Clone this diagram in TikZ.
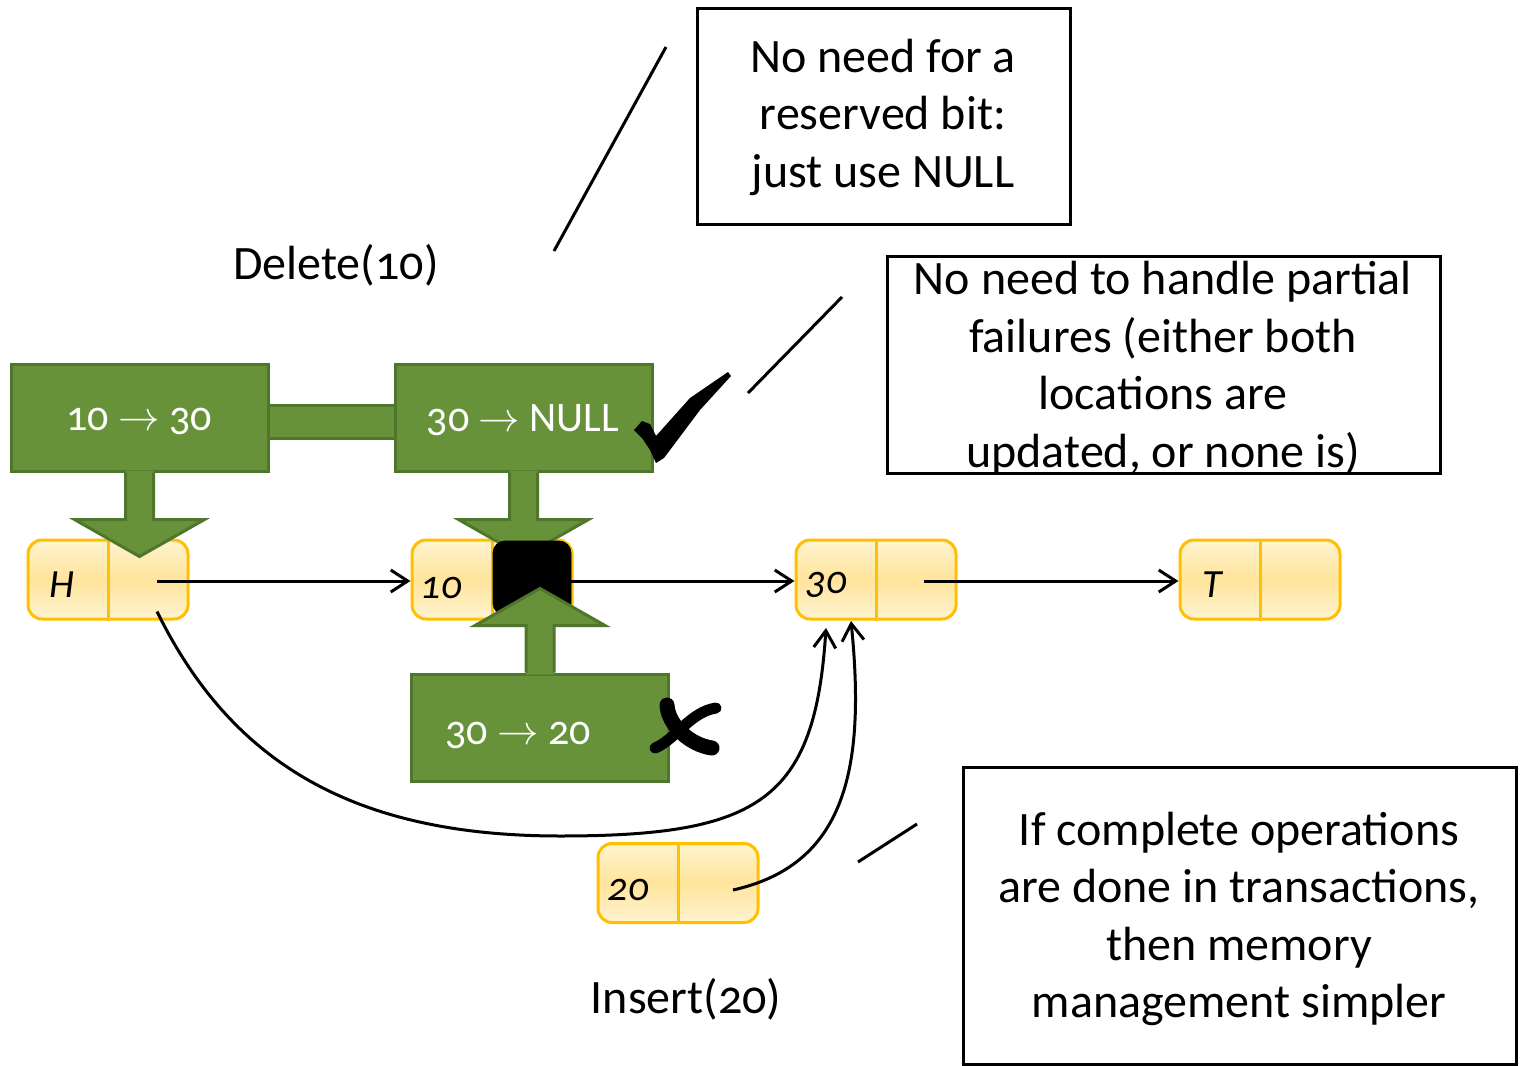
\documentclass[tikz,border=0pt]{standalone}
\usepackage{fontspec}
\setmainfont{Carlito}[Numbers=OldStyle]
\usetikzlibrary{arrows.meta,calc}
\definecolor{gfill}{RGB}{103,146,57}
\definecolor{gborder}{RGB}{80,118,43}
\definecolor{nborder}{RGB}{255,192,0}
\definecolor{nlight}{RGB}{255,243,208}
\definecolor{nmid}{RGB}{255,228,155}
\tikzset{
  listnode/.style={draw=nborder, line width=1.5pt, rounded corners=7pt,
    minimum width=80pt, minimum height=39.5pt, inner sep=0pt,
    top color=nlight, bottom color=nlight, middle color=nmid},
  divider/.style={draw=nborder, line width=1.5pt},
  lbl/.style={font=\itshape\fontsize{20}{24}\selectfont, inner sep=0pt},
  gbox/.style={fill=gfill, draw=gborder, line width=1.5pt,
    minimum width=128.5pt, minimum height=53.5pt, inner sep=0pt},
  gtext/.style={text=white, font=\fontsize{21}{25}\selectfont, inner sep=0pt},
  conn/.style={line width=1.5pt, -{Straight Barb[length=8.5pt,width=11pt,line width=1.5pt]}},
  slash/.style={line width=1.5pt},
  note/.style={draw, line width=1.5pt, inner sep=0pt},
  notetext/.style={align=center, font=\fontsize{24}{28.75}\selectfont, inner sep=0pt},
  optext/.style={font=\fontsize{24}{28}\selectfont, inner sep=0pt},
}
\newcommand\greenarrow[3]{% #1 start point, #2 direction sign (1 down, -1 up), #3 name
  \coordinate (#3) at #1;
  \fill[gfill] ($(#3)+(-14,-2*#2)$) -- ++(0,49*#2) -- ++(-51,0) -- ++(65,37*#2) -- ++(65,-37*#2) -- ++(-51,0) -- ++(0,-49*#2) -- cycle;
  \draw[gborder, line width=1.5pt, line join=miter] ($(#3)+(-14,0)$) -- ++(0,47*#2) -- ++(-51,0) -- ++(65,37*#2) -- ++(65,-37*#2) -- ++(-51,0) -- ++(0,-47*#2);
}
\begin{document}
\begin{tikzpicture}[x=0.5pt,y=-0.5pt]
\useasboundingbox (0,0) rectangle (1523,1066);

% notes
\node[note, minimum width=186.5pt, minimum height=108pt] (note1) at (883.5,116) {};
\node[notetext] (note1t) at (883,117) {No need for a\\reserved bit:\\just use NULL};
\node[note, minimum width=276.5pt, minimum height=108.5pt] (note2) at (1163.5,364.5) {};
\node[notetext] (note2t) at (1163,368) {No need to handle partial\\failures (either both\\locations are\\updated, or none is)};
\node[note, minimum width=276.5pt, minimum height=148.5pt] (note3) at (1239.5,915.5) {};
\node[notetext] (note3t) at (1239,919) {If complete operations\\are done in transactions,\\then memory\\management simpler};

% slashes
\coordinate (s1a) at (666,47); \coordinate (s1b) at (554,251);
\draw[slash] (s1a) -- (s1b);
\coordinate (s2a) at (842,297); \coordinate (s2b) at (748,393);
\draw[slash] (s2a) -- (s2b);
\coordinate (s3a) at (917,824); \coordinate (s3b) at (858,862);
\draw[slash] (s3a) -- (s3b);

% operation labels
\node[optext] (del) at (336,265) {Delete(10)};
\node[optext] (ins) at (686,999) {Insert(20)};

% list nodes
\node[listnode] (h) at (108,579.5) {};
\node[listnode] (n10) at (492,579.5) {};
\node[listnode] (n30) at (876,579.5) {};
\node[listnode] (t) at (1260,579.5) {};
\node[listnode] (n20) at (678,883) {};
\foreach \n in {h,n10,n30,t,n20} \draw[divider] (\n.north) -- (\n.south);
\node[lbl] (hl) at (62,585) {H};
\node[lbl] (l10) at (441,588) {10};
\node[lbl] (l30) at (826,585) {30};
\node[lbl] (tl) at (1212,585) {T};
\node[lbl] (l20) at (628,890) {20};

% green boxes
\fill[gfill] (268,405) rectangle (395,438);
\draw[gborder, line width=1.5pt] (268,405) -- (395,405) (268,438) -- (395,438);
\node[gbox] (ga) at (139.5,417.5) {};
\node[gtext] (gat) at (139,421) {10 \(\rightarrow\) 30};
\node[gbox] (gb) at (523.5,417.5) {};
\node[gtext] (gbt) at (523,420) {30 \(\rightarrow\) NULL};
\node[gbox] (gc) at (540,727.5) {};
\node[gtext] (gct) at (518,735) {30 \(\rightarrow\) 20};

\greenarrow{(ga.south)}{1}{arra}
\greenarrow{(gb.south)}{1}{arrb}

% black square
\node[fill=black, draw=black, rounded corners=6pt, minimum width=39pt, minimum height=37pt, inner sep=0pt] (blk) at (532,578) {};

\greenarrow{(gc.north)}{-1}{arrc}

% connectors
\draw[conn] ($(h.center)+(49,1.5)$) -- (n10.west |- 0,581);
\draw[conn] (blk.east |- 0,581) -- (n30.west |- 0,581);
\draw[conn] ($(n30.center)+(48,1.5)$) -- (t.west |- 0,581);
\coordinate (e1) at (826,628);
\coordinate (e2) at (851,621);
\draw[conn] ($(h.center)+(49,32)$) .. controls (230,760) and (350,836) .. (560,836)
   .. controls (760,836) and (815,800) .. (e1);
\draw[conn] ($(n20.center)+(55,7)$) .. controls (845,865) and (866,770) .. (e2);

% check mark
\fill[black] (634,430) -- (642,421) -- (650,424) -- (656,436) -- (690,398) -- (728,372)
  -- (731,376) -- (700,410) -- (664,458) -- (656,463) -- (650,450) -- (642,438) -- cycle;
% cross mark
\draw[line width=7.5pt, line cap=round] (667,705) .. controls (668,725) and (690,745) .. (712,748);
\draw[line width=5.5pt, line cap=round] (655,748) .. controls (675,740) and (690,712) .. (716,708);
\end{tikzpicture}
\end{document}
